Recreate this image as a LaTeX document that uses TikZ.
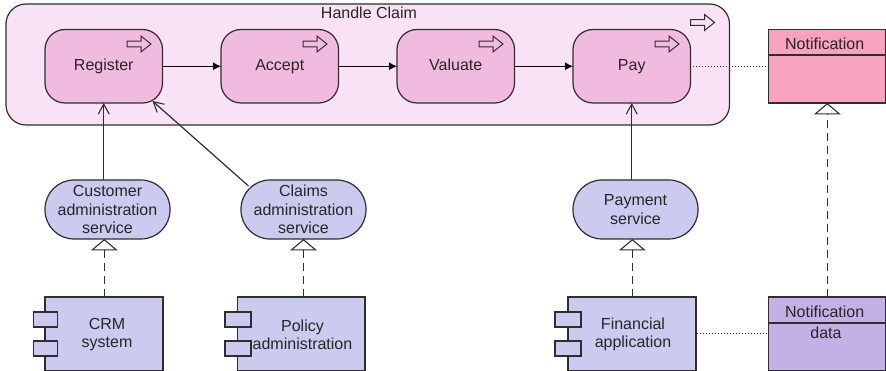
\documentclass[tikz,border=0pt]{standalone}
\usepackage{fontspec}
\setmainfont{Liberation Sans}
\usetikzlibrary{arrows.meta}
\definecolor{linec}{HTML}{2E2E2E}
\definecolor{outerc}{HTML}{F9E2F6}
\definecolor{procc}{HTML}{F1BBE0}
\definecolor{servc}{HTML}{CACBEE}
\definecolor{notic}{HTML}{F7A2C0}
\definecolor{datac}{HTML}{C5B0E6}
\tikzset{
  x=1pt,y=-1pt,
  every node/.style={font=\fontsize{16}{18.4}\selectfont,text=black!85,align=center,inner sep=0pt,outer sep=0pt},
  base/.style={draw=linec,line width=1.2pt},
  outerbox/.style={base,fill=outerc,rounded corners=20pt,minimum width=723.5pt,minimum height=121pt},
  procbox/.style={base,fill=procc,rounded corners=20pt,minimum width=117.5pt,minimum height=73.5pt,text height=11.2pt,text depth=2.5pt},
  servbox/.style={base,fill=servc,rounded corners=29pt,minimum width=125pt,minimum height=59pt},
  compbox/.style={base,fill=servc,minimum height=73.5pt},
  plug/.style={base,fill=servc,minimum height=15pt},
  classbox/.style={base,minimum width=117.3pt,minimum height=73.5pt},
  flow/.style={draw=black,line width=1.2pt,-{Latex[length=8pt,width=8pt]}},
  used/.style={draw=linec,line width=1.2pt,-{Straight Barb[length=10pt,width=11pt,line width=1.1pt]}},
  real/.style={draw=linec,line width=1.1pt,dash pattern=on 8pt off 5pt,-{Triangle[open,length=11.5pt,width=27pt,fill=white,line width=1.1pt]}},
  assoc/.style={draw=linec,line width=1pt,dotted},
  proc/.pic={\draw[draw=linec,line width=1pt] (0,-2.8) -- (14,-2.8) -- (14,-8) -- (24,0) -- (14,8) -- (14,2.8) -- (0,2.8) -- cycle;}
}
\begin{document}
\begin{tikzpicture}
\useasboundingbox (0,0) rectangle (886,371);
\node[outerbox] (claim) at (367.75,64.5) {};
\node (claimt) at (369,12.5) {Handle Claim};
\node[procbox] (reg) at (103.75,66.25) {Register};
\node[procbox] (acc) at (279.75,66.25) {Accept};
\node[procbox] (val) at (455.75,66.25) {Valuate};
\node[procbox] (pay) at (631.75,66.25) {Pay};
\pic at (690.5,22.5) {proc};
\pic at (127,44) {proc};
\pic at (303,44) {proc};
\pic at (479,44) {proc};
\pic at (655,44) {proc};

\node[servbox] (cust) at (107.5,209.5) {Customer\\administration\\service};
\node[servbox] (cl) at (303.5,209.5) {Claims\\administration\\service};
\node[servbox] (ps) at (635.5,209.5) {Payment\\service};

\node[compbox,minimum width=118pt] (crm) at (104,333.75) {};
\node[compbox,minimum width=127.5pt] (pol) at (301.25,333.75) {};
\node[compbox,minimum width=128pt] (fin) at (632,333.75) {};
\node[plug,minimum width=24pt] (p1) at (45.5,319.5) {};
\node[plug,minimum width=24pt] (p2) at (45.5,348.5) {};
\node[plug,minimum width=26pt] (p3) at (238,319.5) {};
\node[plug,minimum width=26pt] (p4) at (238,348.5) {};
\node[plug,minimum width=26pt] (p5) at (568,319.5) {};
\node[plug,minimum width=26pt] (p6) at (568,348.5) {};
\node (crmt) at (107,334.5) {CRM\\system};
\node (polt) at (302.5,334.5) {Policy\\administration};
\node (fint) at (633,334.5) {Financial\\application};

\node[classbox,fill=notic] (not) at (827.35,66.25) {};
\node (nott) at (824.7,43.5) {Notification};
\draw[base] (not.west |- 0,55) -- (not.east |- 0,55);
\node[classbox,fill=datac] (dat) at (827.35,333.75) {};
\node (datt) at (824.7,311.5) {Notification};
\node (datd) at (826,333) {data};
\draw[base] (dat.west |- 0,323) -- (dat.east |- 0,323);

\draw[flow] (reg) -- (acc);
\draw[flow] (acc) -- (val);
\draw[flow] (val) -- (pay);
\draw[used] (cust.north -| reg.south) -- (reg.south);
\draw[used] ([shift={(7.5,6)}]cl.north west) -- ([shift={(-10,-2)}]reg.south east);
\draw[used] (ps.north -| pay.south) -- (pay.south);
\draw[real] ([xshift=0.3pt]crm.north) -- ([xshift=0.3pt]crm.north |- cust.south);
\draw[real] (cl.south |- pol.north) -- (cl.south);
\draw[real] ([xshift=0.3pt]fin.north) -- ([xshift=0.3pt]fin.north |- ps.south);
\draw[real] (dat.north) -- (not.south);
\draw[assoc] ([xshift=2pt]pay.east) -- (not.west);
\draw[assoc] ([xshift=1pt]fin.east) -- (dat.west |- fin.east);
\end{tikzpicture}
\end{document}
